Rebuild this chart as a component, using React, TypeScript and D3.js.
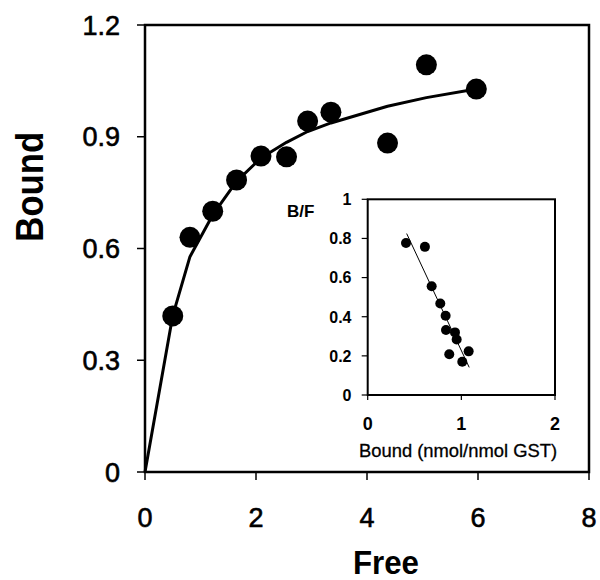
import React from 'react';
import * as d3 from 'd3';

// Main plot data (Free vs Bound)
const mainX = [0.5, 0.81, 1.22, 1.65, 2.09, 2.55, 2.93, 3.35, 4.37, 5.07, 5.97];
const mainY = [0.419, 0.63, 0.7, 0.784, 0.848, 0.846, 0.942, 0.966, 0.883, 1.093, 1.028];
// Fitted saturation curve
const fitX = [0, 0.5, 0.81, 1.22, 1.65, 2.09, 2.55, 2.93, 3.35, 4.37, 5.07, 5.97];
const fitY = [0, 0.42, 0.578, 0.69, 0.78, 0.843, 0.885, 0.914, 0.937, 0.982, 1.005, 1.028];
const mainXTicks = [0, 2, 4, 6, 8];
const mainYTicks = [0, 0.3, 0.6, 0.9, 1.2];

// Inset (Scatchard plot)
const insetX = [0.409, 0.611, 0.683, 0.775, 0.832, 0.836, 0.932, 0.95, 0.871, 1.078, 1.01];
const insetY = [0.777, 0.757, 0.556, 0.468, 0.405, 0.332, 0.32, 0.284, 0.208, 0.223, 0.17];
const insetLineX = [0.416, 1.084];
const insetLineY = [0.825, 0.141];
const insetXTicks = [0, 1, 2];
const insetYTicks = [0, 0.2, 0.4, 0.6, 0.8, 1];

const FONT = '"Liberation Sans", Arial, sans-serif';

export default function App() {
  const x = d3.scaleLinear().domain([0, 8]).range([145, 589]);
  const y = d3.scaleLinear().domain([0, 1.2]).range([472, 25]);
  const ix = d3.scaleLinear().domain([0, 2]).range([367.7, 555]);
  const iy = d3.scaleLinear().domain([0, 1]).range([395, 199.3]);

  const fitPts: [number, number][] = fitX.map((v, i) => [v, fitY[i]]);
  const fitPath = d3
    .line<[number, number]>()
    .x((d) => x(d[0]))
    .y((d) => y(d[1]))(fitPts) as string;

  const insetPts: [number, number][] = insetLineX.map((v, i) => [v, insetLineY[i]]);
  const insetPath = d3
    .line<[number, number]>()
    .x((d) => ix(d[0]))
    .y((d) => iy(d[1]))(insetPts) as string;

  const [x0, x1] = x.range();
  const [yb, yt] = y.range();
  const [ix0, ix1] = ix.range();
  const [iyb, iyt] = iy.range();

  return (
    <svg
      width={600}
      height={580}
      style={{ position: 'absolute', left: 0, top: 0, background: '#fff' }}
      fontFamily={FONT}
    >
      <rect x={0} y={0} width={600} height={580} fill="#fff" />
      {/* Main frame */}
      <rect x={x0} y={yt} width={x1 - x0} height={yb - yt} fill="none" stroke="#000" strokeWidth={2.5} />
      {/* Main y ticks */}
      {mainYTicks.map((t) => (
        <g key={'my' + t}>
          <line x1={x0 - 8} x2={x0} y1={y(t)} y2={y(t)} stroke="#000" strokeWidth={1.5} />
          <text x={120} y={y(t) + 9.5} textAnchor="end" fontSize={27} fill="#000" stroke="#000" strokeWidth={0.6}>
            {String(t)}
          </text>
        </g>
      ))}
      {/* Main x ticks */}
      {mainXTicks.map((t) => (
        <g key={'mx' + t}>
          <line x1={x(t)} x2={x(t)} y1={yb} y2={yb + 8} stroke="#000" strokeWidth={1.5} />
          <text x={x(t)} y={527} textAnchor="middle" fontSize={27} fill="#000" stroke="#000" strokeWidth={0.6}>
            {String(t)}
          </text>
        </g>
      ))}
      {/* Axis titles */}
      <text
        transform={`translate(42.5,186.7) rotate(-90)`}
        textAnchor="middle"
        fontSize={38}
        fontWeight="bold"
        textLength={110}
        lengthAdjust="spacingAndGlyphs"
        fill="#000"
      >
        Bound
      </text>
      <text
        x={386}
        y={574}
        textAnchor="middle"
        fontSize={34}
        fontWeight="bold"
        textLength={66}
        lengthAdjust="spacingAndGlyphs"
        fill="#000"
      >
        Free
      </text>

      {/* Fit curve */}
      <path d={fitPath} fill="none" stroke="#000" strokeWidth={3} strokeLinejoin="round" />
      {/* Main points */}
      {mainX.map((v, i) => (
        <circle key={'mp' + i} cx={x(v)} cy={y(mainY[i])} r={10.5} fill="#000" />
      ))}

      {/* Inset frame */}
      <rect x={ix0} y={iyt} width={ix1 - ix0} height={iyb - iyt} fill="none" stroke="#000" strokeWidth={2} />
      {insetYTicks.map((t) => (
        <g key={'iy' + t}>
          <line x1={ix0 - 6} x2={ix0} y1={iy(t)} y2={iy(t)} stroke="#000" strokeWidth={1.2} />
          <text x={351.5} y={iy(t) + 5.8} textAnchor="end" fontSize={16} fontWeight="bold" fill="#000">
            {String(t)}
          </text>
        </g>
      ))}
      {insetXTicks.map((t) => (
        <g key={'ix' + t}>
          <line x1={ix(t)} x2={ix(t)} y1={iyb} y2={iyb + 5} stroke="#000" strokeWidth={1.2} />
          <text x={ix(t)} y={430} textAnchor="middle" fontSize={18} fontWeight="bold" fill="#000">
            {String(t)}
          </text>
        </g>
      ))}
      <text x={287} y={216.7} fontSize={17} fontWeight="bold" fill="#000">
        B/F
      </text>
      <text
        x={458}
        y={456.5}
        textAnchor="middle"
        fontSize={18}
        textLength={198}
        lengthAdjust="spacingAndGlyphs"
        fill="#000"
        stroke="#000"
        strokeWidth={0.3}
      >
        Bound (nmol/nmol GST)
      </text>
      <path d={insetPath} fill="none" stroke="#000" strokeWidth={1} />
      {insetX.map((v, i) => (
        <circle key={'ip' + i} cx={ix(v)} cy={iy(insetY[i])} r={5} fill="#000" />
      ))}
    </svg>
  );
}
